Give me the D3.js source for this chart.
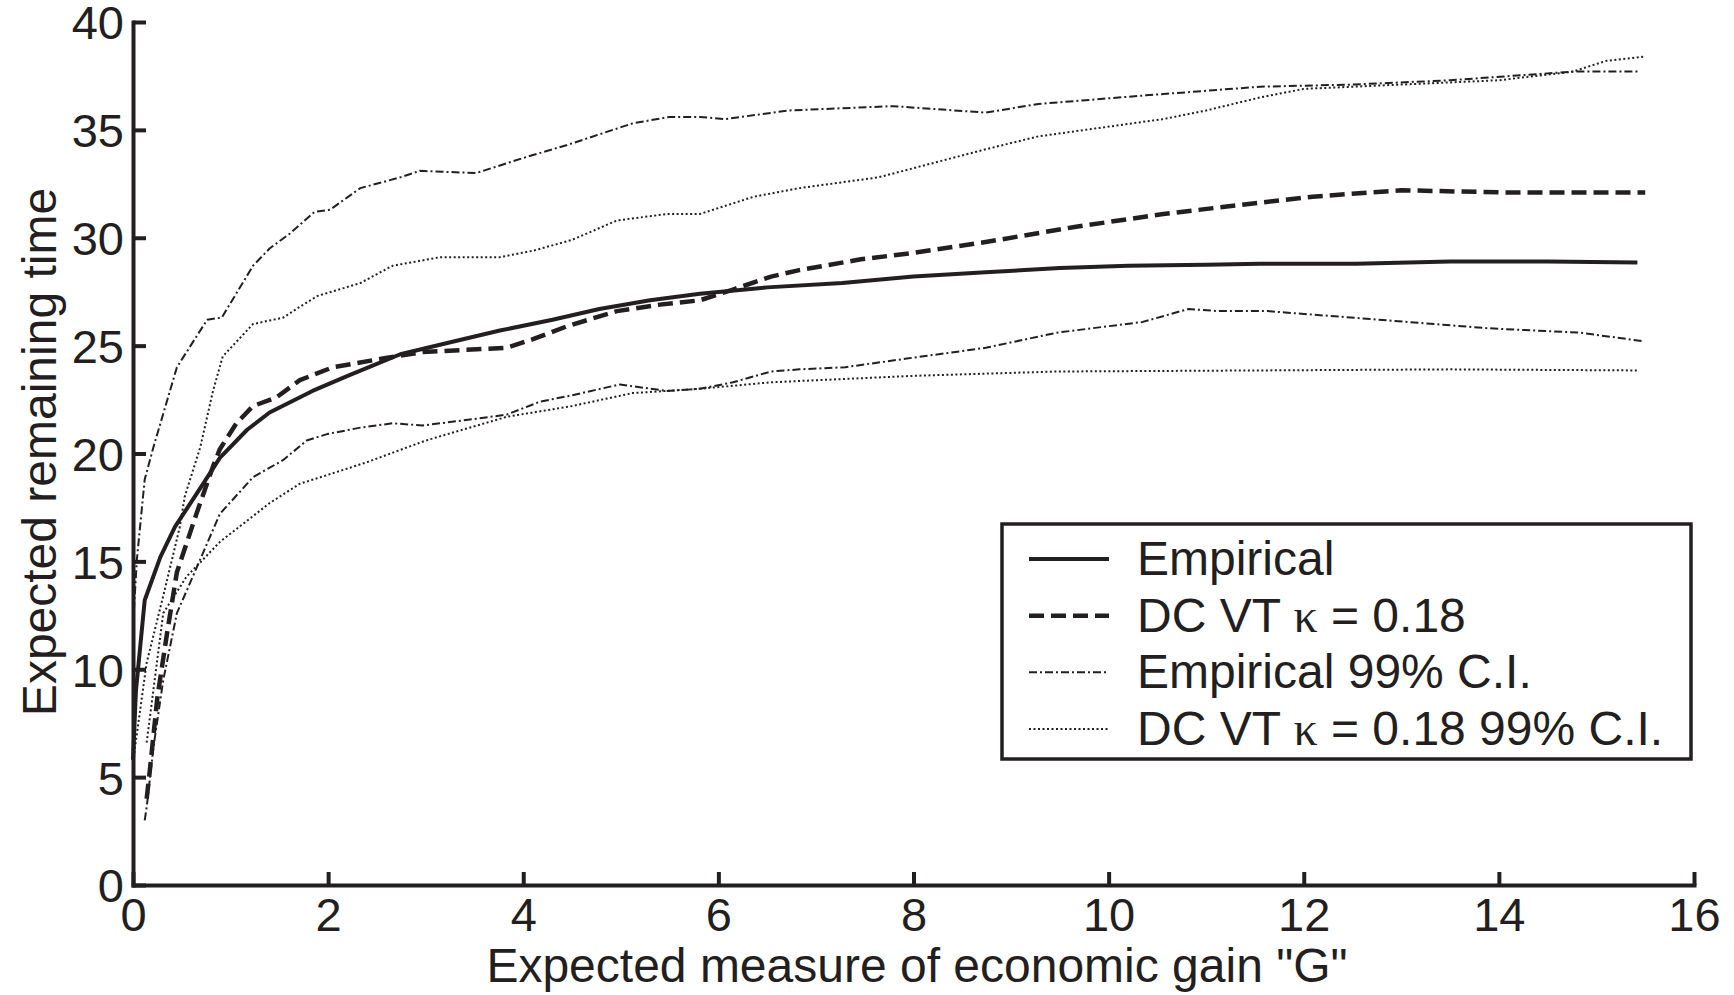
<!DOCTYPE html>
<html>
<head>
<meta charset="utf-8">
<script src="https://cdn.jsdelivr.net/npm/d3@7"></script>
<style>
  body { margin: 0; background: #fff; }
  text { font-family: "Liberation Sans", Arial, Helvetica, sans-serif; fill: #231f20; }
  .kappa { font-family: "Liberation Serif", "Times New Roman", serif; }
</style>
</head>
<body>
<div id="graph1"></div>
<script>
// values: [G, remaining time]
var empirical = [[0,5.8],[0.03,9.0],[0.12,13.2],[0.28,15.2],[0.43,16.6],[0.72,18.6],[0.89,19.8],[1.17,21.1],[1.40,21.9],[1.84,22.9],[2.2,23.6],[2.74,24.6],[3.2,25.1],[3.76,25.7],[4.3,26.2],[4.78,26.7],[5.3,27.1],[5.81,27.4],[6.5,27.7],[7.27,27.9],[8,28.2],[8.74,28.4],[9.5,28.6],[10.2,28.7],[11,28.75],[11.55,28.8],[12.54,28.8],[13.5,28.9],[14.5,28.9],[15.42,28.85]];

var dcvt = [[0.14,4.0],[0.17,5.2],[0.25,8.7],[0.35,11.7],[0.45,14.5],[0.65,17.2],[0.82,19.4],[0.89,20.2],[1.06,21.4],[1.23,22.2],[1.47,22.6],[1.71,23.4],[2.05,24.0],[2.56,24.4],[2.97,24.7],[3.4,24.8],[3.83,24.9],[4.1,25.3],[4.45,25.9],[4.96,26.6],[5.4,26.9],[5.81,27.1],[6.15,27.6],[6.54,28.2],[6.83,28.5],[7.46,29.0],[8.0,29.3],[8.74,29.8],[9.65,30.5],[10.56,31.1],[11.5,31.6],[12.09,31.9],[12.67,32.1],[13.0,32.2],[14.07,32.1],[15.5,32.1]];

var empUpper = [[0.0,12.0],[0.04,15.1],[0.12,18.8],[0.21,20.3],[0.45,24.0],[0.76,26.2],[0.91,26.3],[1.23,28.7],[1.40,29.5],[1.61,30.2],[1.86,31.2],[2.02,31.3],[2.33,32.3],[2.74,32.8],[2.94,33.1],[3.52,33.0],[4.0,33.7],[4.45,34.3],[5.12,35.3],[5.5,35.6],[5.81,35.6],[6.07,35.5],[6.72,35.9],[7.79,36.1],[8.74,35.8],[9.28,36.2],[10.38,36.6],[11.55,37.0],[12.5,37.1],[13.5,37.3],[14.76,37.7],[15.42,37.7]];

var empLower = [[0.12,3.0],[0.14,3.6],[0.21,6.4],[0.31,9.5],[0.45,12.6],[0.69,15.1],[0.89,17.2],[1.23,18.9],[1.54,19.7],[1.78,20.6],[1.99,20.9],[2.33,21.2],[2.66,21.4],[2.97,21.3],[3.5,21.6],[3.83,21.8],[4.17,22.4],[4.5,22.7],[4.99,23.2],[5.47,22.9],[5.81,23.0],[6.15,23.3],[6.54,23.8],[6.83,23.9],[7.3,24.0],[7.93,24.4],[8.74,24.9],[9.47,25.6],[10.35,26.1],[10.82,26.7],[11.12,26.6],[11.63,26.6],[12.77,26.2],[13.91,25.8],[14.83,25.6],[15.49,25.2]];

var dcvtUpper = [[0.0,5.7],[0.14,10.3],[0.31,13.4],[0.48,16.6],[0.53,18.0],[0.69,20.3],[0.82,22.9],[0.92,24.5],[1.23,26.0],[1.54,26.3],[1.71,26.8],[1.89,27.3],[2.33,27.9],[2.66,28.7],[3.15,29.1],[3.76,29.1],[4.1,29.4],[4.5,29.9],[4.96,30.8],[5.47,31.1],[5.81,31.1],[6.36,31.9],[6.83,32.3],[7.64,32.8],[8.74,34.1],[9.28,34.7],[10.56,35.5],[11.0,35.9],[11.55,36.5],[12.0,36.9],[13.0,37.1],[14.0,37.3],[14.76,37.7],[15.1,38.2],[15.5,38.4]];

var dcvtLower = [[0.14,6.6],[0.31,12.6],[0.55,14.3],[0.89,15.9],[1.40,17.7],[1.71,18.6],[1.92,18.9],[2.4,19.6],[3.0,20.6],[3.83,21.7],[4.5,22.2],[5.12,22.8],[5.81,23.0],[6.54,23.3],[8.0,23.6],[9.47,23.8],[11.55,23.85],[13.5,23.9],[15.42,23.85]];

var xTicks = [0, 2, 4, 6, 8, 10, 12, 14, 16];
var yTicks = [0, 5, 10, 15, 20, 25, 30, 35, 40];
var legendLabels = ["Empirical", "DC VT \u03ba = 0.18", "Empirical 99% C.I.", "DC VT \u03ba = 0.18 99% C.I."];

var ink = "#231f20";
var W = 1734, H = 995;

var svg = d3.select("#graph1")
  .append("svg")
    .attr("width", W)
    .attr("height", H);

var x = d3.scaleLinear().domain([0, 16]).range([133, 1694]);
var y = d3.scaleLinear().domain([0, 40]).range([885, 22]);

// line styles
var styles = [
  {data: empirical, width: 4, dash: null},
  {data: dcvt, width: 4.5, dash: "15,7"},
  {data: empUpper, width: 2, dash: "8,3,2,3"},
  {data: dcvtUpper, width: 2, dash: "2,2.5"},
  {data: empLower, width: 2, dash: "8,3,2,3"},
  {data: dcvtLower, width: 2, dash: "2,2.5"}
];

var line = d3.line()
  .x(function(d) { return x(d[0]); })
  .y(function(d) { return y(d[1]); });

svg.append("g")
  .selectAll("path")
  .data(styles)
  .enter().append("path")
    .attr("d", function(d) { return line(d.data); })
    .attr("fill", "none")
    .attr("stroke", ink)
    .attr("stroke-width", function(d) { return d.width; })
    .attr("stroke-dasharray", function(d) { return d.dash; })
    .attr("stroke-linejoin", "round");

// axes, ticks pointing inward
var xAxis = svg.append("g")
  .attr("transform", "translate(0," + y(0) + ")")
  .call(d3.axisBottom(x).tickValues(xTicks).tickSize(-13).tickSizeOuter(0).tickPadding(13));

var yAxis = svg.append("g")
  .attr("transform", "translate(" + x(0) + ",0)")
  .call(d3.axisLeft(y).tickValues(yTicks).tickSize(-13).tickSizeOuter(0).tickPadding(9));

[xAxis, yAxis].forEach(function(ax) {
  ax.select(".domain").attr("stroke", ink).attr("stroke-width", 4).attr("stroke-linecap", "square");
  ax.selectAll(".tick line").attr("stroke", ink).attr("stroke-width", 4);
  ax.selectAll(".tick text")
    .attr("font-size", 47)
    .attr("font-family", "Liberation Sans, Arial, sans-serif")
    .attr("fill", ink);
});
// keep the top label inside the page
yAxis.selectAll(".tick text").attr("dy", "0.36em");

// axis titles
svg.append("text")
  .text("Expected measure of economic gain \"G\"")
  .attr("text-anchor", "middle")
  .attr("font-size", 48)
  .attr("x", 917)
  .attr("y", 982);

svg.append("g")
  .attr("transform", "translate(56," + 452 + ")")
  .append("text")
  .text("Expected remaining time")
  .attr("text-anchor", "middle")
  .attr("font-size", 48)
  .attr("transform", "rotate(-90)");

// legend
var legend = svg.append("g");
legend.append("rect")
  .attr("x", 1002).attr("y", 524)
  .attr("width", 689).attr("height", 235)
  .attr("fill", "#fff")
  .attr("stroke", ink)
  .attr("stroke-width", 3.5);

var rowY = d3.scalePoint().domain(legendLabels).range([559, 729]);
var rows = legend.selectAll(".row")
  .data(legendLabels)
  .enter().append("g")
    .attr("transform", function(d) { return "translate(0," + rowY(d) + ")"; });

rows.append("line")
  .attr("x1", 1029).attr("x2", 1109)
  .attr("stroke", ink)
  .attr("stroke-width", function(d, i) { return styles[i].width; })
  .attr("stroke-dasharray", function(d, i) { return styles[i].dash; });

rows.each(function(d) {
  var t = d3.select(this).append("text")
    .attr("x", 1137)
    .attr("dy", "0.33em")
    .attr("font-size", 48);
  var parts = d.split("\u03ba");
  t.append("tspan").text(parts[0]);
  if (parts.length > 1) {
    t.append("tspan").attr("class", "kappa").text("\u03ba");
    t.append("tspan").text(parts[1]);
  }
});
</script>
</body>
</html>
